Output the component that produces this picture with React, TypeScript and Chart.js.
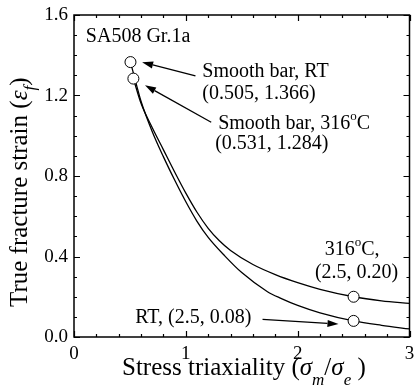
import React, { useEffect, useRef } from "react";
import { Chart, registerables } from "chart.js";

Chart.register(...registerables);

// Curve: 316°C
const curveX316 = [0.531, 0.6, 0.7, 0.8, 0.9, 1.0, 1.1, 1.2, 1.3, 1.4, 1.6, 1.8, 2.0, 2.2, 2.5, 2.75, 3.0];
const curveY316 = [1.284, 1.16, 1.04, 0.93, 0.82, 0.715, 0.62, 0.54, 0.478, 0.43, 0.36, 0.31, 0.27, 0.237, 0.2, 0.18, 0.167];
// Curve: RT
const curveXRT = [0.505, 0.56, 0.6, 0.7, 0.8, 0.9, 1.0, 1.1, 1.2, 1.35, 1.5, 1.73, 1.85, 2.0, 2.2, 2.5, 2.75, 3.0];
const curveYRT = [1.366, 1.25, 1.17, 1.02, 0.895, 0.78, 0.672, 0.575, 0.495, 0.402, 0.32, 0.225, 0.192, 0.157, 0.12, 0.08, 0.058, 0.04];
// Marked points
const markerX = [0.505, 0.531, 2.5, 2.5];
const markerY = [1.366, 1.284, 0.2, 0.08];
// Axis ticks
const xTicks = [0, 1, 2, 3];
const yTicks = [0, 0.4, 0.8, 1.2, 1.6];

const FONT = "'Liberation Serif', 'Times New Roman', serif";

function App() {
  const ref = useRef<HTMLCanvasElement>(null);
  useEffect(() => {
    document.body.style.margin = "0";
    const canvas = ref.current!;
    const drawPlugin = {
      id: "decor",
      afterDraw(chart: any) {
        const { ctx, chartArea, scales } = chart;
        const { left, right, top, bottom } = chartArea;
        const xs = scales.x;
        const ys = scales.y;
        const px = (v: number) => xs.getPixelForValue(v);
        const py = (v: number) => ys.getPixelForValue(v);
        ctx.save();
        ctx.strokeStyle = "#000";
        ctx.fillStyle = "#000";
        // frame
        ctx.lineWidth = 1.5;
        ctx.strokeRect(left, top, right - left, bottom - top);
        // ticks
        ctx.lineWidth = 1.2;
        ctx.beginPath();
        for (let i = 0; i <= 15; i++) {
          const v = i * 0.2;
          const len = i % 5 === 0 ? 6 : 3;
          const X = Math.round(px(v)) + 0.5;
          ctx.moveTo(X, bottom);
          ctx.lineTo(X, bottom - len);
          ctx.moveTo(X, top);
          ctx.lineTo(X, top + len);
        }
        for (let i = 0; i <= 16; i++) {
          const v = i * 0.1;
          const len = i % 4 === 0 ? 6 : 3;
          const Y = Math.round(py(v)) + 0.5;
          ctx.moveTo(left, Y);
          ctx.lineTo(left + len, Y);
          ctx.moveTo(right, Y);
          ctx.lineTo(right - len, Y);
        }
        ctx.stroke();
        // tick labels
        ctx.font = `19px ${FONT}`;
        ctx.textAlign = "center";
        ctx.textBaseline = "alphabetic";
        xTicks.forEach((t) => ctx.fillText(String(t), px(t), bottom + 21.5));
        ctx.textAlign = "right";
        ctx.textBaseline = "middle";
        yTicks.forEach((t) => ctx.fillText(t.toFixed(1), left - 6, py(t) + 0.5));

        const run = (parts: [string, string, number][], x0: number, y0: number) => {
          ctx.textAlign = "left";
          ctx.textBaseline = "alphabetic";
          let x = x0;
          for (const [txt, font, dy] of parts) {
            ctx.font = font;
            ctx.fillText(txt, x, y0 + dy);
            x += ctx.measureText(txt).width;
          }
        };
        const big = `25px ${FONT}`;
        const bigI = `italic 25px ${FONT}`;
        const subI = `italic 17px ${FONT}`;
        // x title
        run(
          [
            ["Stress triaxiality (", big, 0],
            ["\u03c3", bigI, 0],
            ["m", subI, 10],
            ["/", big, 0],
            ["\u03c3", bigI, 0],
            ["e", subI, 10],
            [" )", big, 0],
          ],
          left + 48,
          bottom + 38
        );
        // y title (rotated)
        ctx.save();
        ctx.translate(26.5, bottom - 30);
        ctx.rotate(-Math.PI / 2);
        run(
          [
            ["True fracture strain (", big, 0],
            ["\u03b5", bigI, 0],
            ["f", subI, 8],
            [")", big, 0],
          ],
          0,
          0
        );
        ctx.restore();

        // annotations
        const t20 = `20px ${FONT}`;
        const sup = `13px ${FONT}`;
        run([["SA508 Gr.1a", t20, 0]], px(0.106), py(1.466));
        run([["Smooth bar, RT", t20, 0]], px(1.147), py(1.291));
        run([["(0.505, 1.366)", t20, 0]], px(1.147), py(1.182));
        run([["Smooth bar, 316", t20, 0], ["o", sup, -9], ["C", t20, 0]], px(1.289), py(1.033));
        run([["(0.531, 1.284)", t20, 0]], px(1.262), py(0.933));
        run([["316", t20, 0], ["o", sup, -9], ["C,", t20, 0]], px(2.242), py(0.407));
        run([["(2.5, 0.20)", t20, 0]], px(2.154), py(0.293));
        run([["RT, (2.5, 0.08)", t20, 0]], px(0.547), py(0.0695));

        // arrows
        const arrow = (x1: number, y1: number, x2: number, y2: number) => {
          const ax = px(x1), ay = py(y1), bx = px(x2), by = py(y2);
          const ang = Math.atan2(by - ay, bx - ax);
          const L = 11, W = 3.5;
          const hx = bx - L * Math.cos(ang), hy = by - L * Math.sin(ang);
          ctx.lineWidth = 1.3;
          ctx.beginPath();
          ctx.moveTo(ax, ay);
          ctx.lineTo(hx, hy);
          ctx.stroke();
          ctx.beginPath();
          ctx.moveTo(bx, by);
          ctx.lineTo(hx + W * Math.sin(ang), hy - W * Math.cos(ang));
          ctx.lineTo(hx - W * Math.sin(ang), hy + W * Math.cos(ang));
          ctx.closePath();
          ctx.fill();
        };
        arrow(1.086, 1.298, 0.609, 1.365);
        arrow(1.227, 1.067, 0.635, 1.251);
        arrow(1.686, 0.088, 2.365, 0.064);
        ctx.restore();
      },
    };

    const chart = new Chart(canvas, {
      type: "line",
      data: {
        datasets: [
          {
            data: markerX.map((x, i) => ({ x, y: markerY[i] })),
            showLine: false,
            pointRadius: 5.5,
            pointBorderWidth: 1,
            pointBackgroundColor: "#fff",
            pointBorderColor: "#000",
            order: 0,
          } as any,
          {
            data: curveX316.map((x, i) => ({ x, y: curveY316[i] })),
            borderColor: "#000",
            borderWidth: 1.3,
            pointRadius: 0,
            cubicInterpolationMode: "monotone",
            order: 1,
          },
          {
            data: curveXRT.map((x, i) => ({ x, y: curveYRT[i] })),
            borderColor: "#000",
            borderWidth: 1.3,
            pointRadius: 0,
            cubicInterpolationMode: "monotone",
            order: 1,
          },
        ],
      },
      options: {
        responsive: false,
        devicePixelRatio: 1,
        animation: false,
        layout: { padding: { left: 74, right: 3, top: 15, bottom: 52 } },
        plugins: { legend: { display: false }, tooltip: { enabled: false } },
        scales: {
          x: { type: "linear", min: 0, max: 3, display: false },
          y: { type: "linear", min: 0, max: 1.6, display: false },
        },
      },
      plugins: [drawPlugin],
    });
    return () => chart.destroy();
  }, []);
  return (
    <div style={{ width: 416, height: 389 }}>
      <canvas ref={ref} width={416} height={389} style={{ display: "block", width: 416, height: 389 }} />
    </div>
  );
}

export default App;
